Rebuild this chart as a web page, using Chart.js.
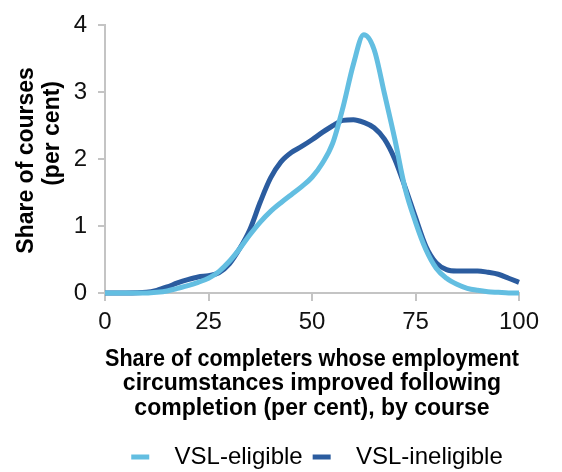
<!DOCTYPE html>
<html>
<head>
<meta charset="utf-8">
<script src="https://cdn.jsdelivr.net/npm/chart.js@4/dist/chart.umd.min.js"></script>
<style>
  html, body { margin: 0; padding: 0; background: #fff; }
  #wrap { width: 562px; height: 472px; position: relative; }
</style>
</head>
<body>
<div id="wrap"><canvas id="densityChart"></canvas></div>
<script>
// Data (nilai perkiraan)
const xValues = [0, 5, 10, 12.5, 15, 17.5, 20, 22.5, 25, 27.5, 30, 32.5, 35, 37.5, 40, 42.5, 45, 47.5, 50,
    52.5, 55, 57.5, 60, 62.5, 65, 67.5, 70, 72.5, 75, 77.5, 80, 82.5, 85, 87.5, 90, 92.5, 95, 97.5, 100];

const eligibleValues = [0, 0, 0, 0.01, 0.03, 0.07, 0.11, 0.16, 0.22, 0.32, 0.47, 0.66, 0.87, 1.06, 1.22, 1.35, 1.47, 1.59, 1.73,
    1.94, 2.24, 2.78, 3.42, 3.86, 3.64, 2.98, 2.3, 1.56, 1.06, 0.65, 0.37, 0.22, 0.13, 0.07, 0.04, 0.02, 0.01, 0, 0];

const ineligibleValues = [0, 0, 0.01, 0.04, 0.09, 0.15, 0.2, 0.24, 0.26, 0.3, 0.43, 0.66, 0.95, 1.36, 1.72, 1.96, 2.1, 2.19, 2.29,
    2.4, 2.5, 2.58, 2.59, 2.55, 2.47, 2.3, 2.0, 1.58, 1.13, 0.7, 0.45, 0.35, 0.33, 0.33, 0.33, 0.31, 0.28, 0.22, 0.16];

const seriesLabels = ['VSL-eligible', 'VSL-ineligible'];
const xTicks = [0, 25, 50, 75, 100];
const yTicks = [0, 1, 2, 3, 4];
const xTitle = ['Share of completers whose employment', 'circumstances improved following', 'completion (per cent), by course'];
const yTitle = ['Share of courses', '(per cent)'];

const lightBlue = '#63BEE1';
const darkBlue = '#2B5C9F';
const axisGrey = '#C4C4C4';
const fontFamily = '"Liberation Sans", Arial, sans-serif';

// Gabungkan x dan y jadi titik
function toPoints(values) {
    return xValues.map((x, i) => ({ x: x, y: values[i] }));
}

// Plugin untuk judul sumbu Y (dua baris dengan posisi berbeda)
const yTitlePlugin = {
    id: 'yTitlePlugin',
    afterDraw(chart) {
        const ctx = chart.ctx;
        const area = chart.chartArea;
        ctx.save();
        ctx.fillStyle = '#000';
        ctx.font = 'bold 23px ' + fontFamily;
        ctx.textAlign = 'center';
        ctx.textBaseline = 'middle';
        const pos = [{ x: 27, y: area.top + 135 }, { x: 53, y: area.top + 108 }];
        yTitle.forEach((line, i) => {
            ctx.save();
            ctx.translate(pos[i].x, pos[i].y);
            ctx.rotate(-Math.PI / 2);
            ctx.fillText(line, 0, 0);
            ctx.restore();
        });
        ctx.restore();
    }
};

// Geser legenda supaya tengahnya sama dengan gambar asli
const legendShiftPlugin = {
    id: 'legendShiftPlugin',
    afterLayout(chart) {
        const lg = chart.legend;
        if (!lg) return;
        lg.left = 2 * 317 - lg.right;
    }
};

const ctx = document.getElementById('densityChart').getContext('2d');
const chart = new Chart(ctx, {
    type: 'line',
    data: {
        datasets: [
            {
                label: seriesLabels[0],
                data: toPoints(eligibleValues),
                borderColor: lightBlue,
                backgroundColor: lightBlue,
                borderWidth: 5,
                pointRadius: 0,
                tension: 0.4,
                cubicInterpolationMode: 'monotone',
                clip: false
            },
            {
                label: seriesLabels[1],
                data: toPoints(ineligibleValues),
                borderColor: darkBlue,
                backgroundColor: darkBlue,
                borderWidth: 5,
                pointRadius: 0,
                tension: 0.4,
                cubicInterpolationMode: 'monotone',
                clip: false
            }
        ]
    },
    options: {
        responsive: true,
        maintainAspectRatio: false,
        animation: false,
        layout: { padding: { top: 19, right: 43, bottom: 0, left: 0 } },
        scales: {
            x: {
                type: 'linear',
                min: 0,
                max: 100,
                afterBuildTicks: (scale) => { scale.ticks = xTicks.map(v => ({ value: v })); },
                afterFit: (scale) => { scale.height = 142; },
                border: { color: axisGrey, width: 2 },
                grid: { drawOnChartArea: false, color: axisGrey, lineWidth: 2, tickLength: 8 },
                ticks: { color: '#111', font: { family: fontFamily, size: 24 }, padding: 7, maxRotation: 0 },
                title: {
                    display: true,
                    text: xTitle,
                    color: '#000',
                    font: { family: fontFamily, size: 23, weight: 'bold', lineHeight: 1.07 },
                    padding: { top: 6, bottom: 14 }
                }
            },
            y: {
                min: 0,
                max: 4,
                afterBuildTicks: (scale) => { scale.ticks = yTicks.map(v => ({ value: v })); },
                afterFit: (scale) => { scale.width = 105; },
                border: { color: axisGrey, width: 2 },
                grid: { drawOnChartArea: false, color: axisGrey, lineWidth: 2, tickLength: 7 },
                ticks: { color: '#111', font: { family: fontFamily, size: 24 }, padding: 11 }
            }
        },
        plugins: {
            legend: {
                position: 'bottom',
                maxHeight: 37,
                labels: {
                    color: '#111',
                    font: { family: fontFamily, size: 24 },
                    boxWidth: 18,
                    boxHeight: 5,
                    padding: 10,
                    generateLabels: (c) => c.data.datasets.map((ds, i) => ({
                        text: '  ' + ds.label,
                        fillStyle: ds.borderColor,
                        strokeStyle: ds.borderColor,
                        lineWidth: 0,
                        datasetIndex: i
                    }))
                }
            },
            tooltip: { enabled: false }
        }
    },
    plugins: [yTitlePlugin, legendShiftPlugin]
});
</script>
</body>
</html>
